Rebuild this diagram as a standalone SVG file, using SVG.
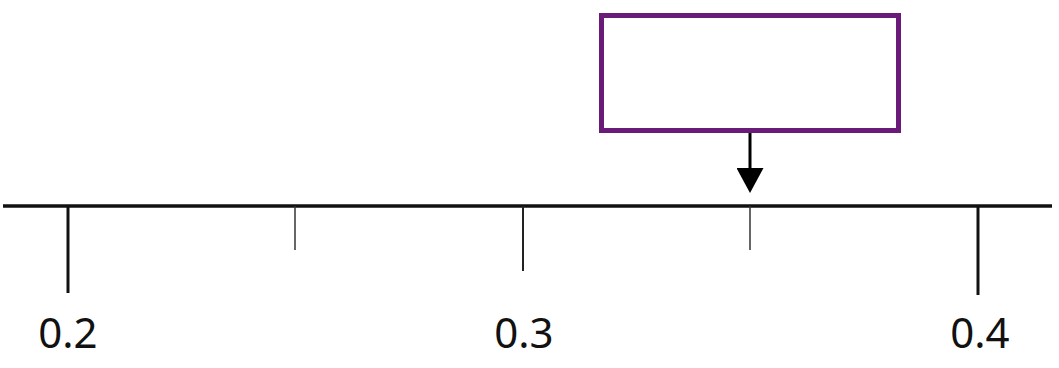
<svg xmlns="http://www.w3.org/2000/svg" width="1059" height="368" viewBox="0 0 1059 368">
<style>
.major{stroke:#111;stroke-width:3}
.minor{stroke:#333;stroke-width:1.5}
.mid{stroke:#222;stroke-width:2}
.lbl{font-family:"Noto Sans","Open Sans",sans-serif;font-size:42px;fill:#111;text-anchor:middle}
</style>
<defs>
<marker id="ah" markerWidth="25" markerHeight="27" refX="7" refY="13.5" orient="auto" markerUnits="userSpaceOnUse" viewBox="0 0 25 27">
<path d="M0,0 L25,13.5 L0,27 Z" fill="#000"/>
</marker>
</defs>
<rect width="1059" height="368" fill="#fff"/>
<g id="axis">
<line x1="3" y1="206" x2="1052" y2="206" stroke="#111" stroke-width="3.5"/>
<line class="major" x1="68" y1="206" x2="68" y2="293"/>
<line class="minor" x1="295" y1="206" x2="295" y2="250"/>
<line class="mid" x1="523" y1="206" x2="523" y2="271"/>
<line class="minor" x1="750" y1="206" x2="750" y2="250"/>
<line class="major" x1="978" y1="206" x2="978" y2="295"/>
<text class="lbl" x="68" y="348">0.2</text>
<text class="lbl" x="524" y="348">0.3</text>
<text class="lbl" x="980" y="348">0.4</text>
</g>
<g id="box">
<rect x="601.5" y="15.5" width="297" height="115" fill="#fff" stroke="#6a1b7a" stroke-width="5"/>
</g>
<g id="connectors">
<line x1="750" y1="133" x2="750" y2="175" stroke="#000" stroke-width="3" marker-end="url(#ah)"/>
</g>
</svg>
